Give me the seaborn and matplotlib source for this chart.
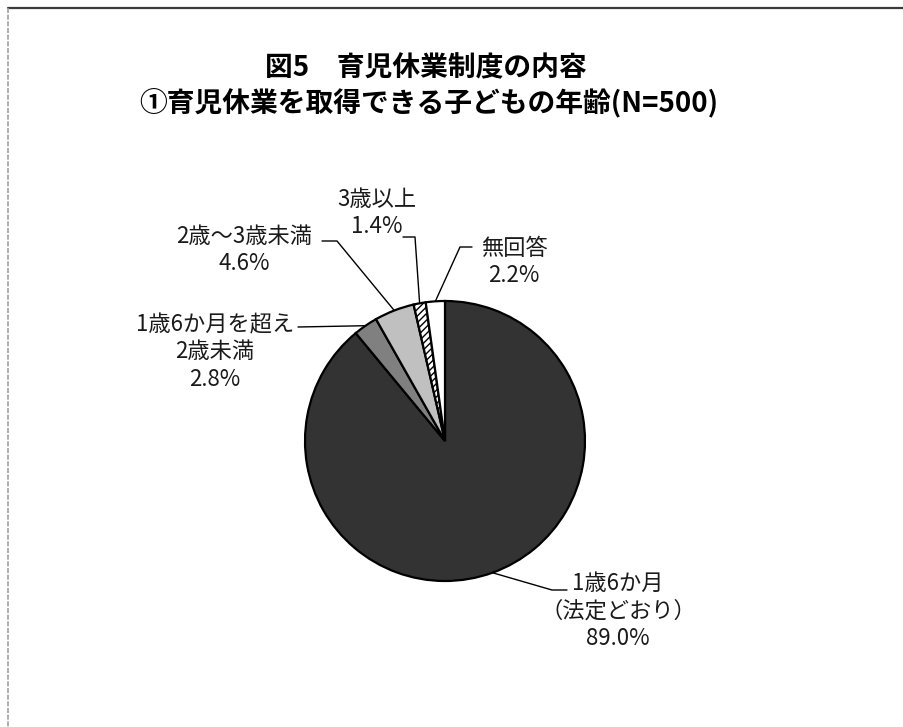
import numpy as np
import matplotlib
matplotlib.use("Agg")
import matplotlib.pyplot as plt
import seaborn as sns

# ---- data ----
categories = ["1歳6か月\n（法定どおり）", "1歳6か月を超え\n2歳未満", "2歳～3歳未満", "3歳以上", "無回答"]
shares = [89.0, 2.8, 4.6, 1.4, 2.2]
title_lines = ["図5　育児休業制度の内容", "①育児休業を取得できる子どもの年齢(N=500)"]

sns.set_theme(style="white")
plt.rcParams["font.family"] = ["Noto Sans CJK JP", "DejaVu Sans"]
plt.rcParams["hatch.linewidth"] = 1.0

W, H = 904, 727
fig = plt.figure(figsize=(W / 100, H / 100), dpi=100)
ax = fig.add_axes([0, 0, 1, 1])
ax.set_xlim(0, W)
ax.set_ylim(0, H)
ax.set_aspect("equal")
ax.axis("off")


def px(x, y):
    """pixel position measured from the top-left corner -> axes data"""
    return x, H - y


# frame lines at top and left
ax.plot([8, W], [H - 8, H - 8], color="#3c3c3c", lw=1.6, clip_on=False)
ax.plot([8, 8], [H - 8, 0], color="#a0a0a0", lw=1.2, ls=(0, (3, 1)), clip_on=False)

# ---- pie ----
fills = ["#333333", "#808080", "#c0c0c0", "white", "white"]
hatches = [None, None, None, "/////", None]
cx, cy = px(445, 441)
R = 140
wedges, _ = ax.pie(shares, colors=fills, startangle=90, counterclock=False,
                   center=(cx, cy), radius=R, frame=True,
                   wedgeprops=dict(edgecolor="black", linewidth=1.6))
for w, h in zip(wedges, hatches):
    if h:
        w.set_hatch(h)
ax.set_xlim(0, W)
ax.set_ylim(0, H)
ax.axis("off")

# ---- labels with leader lines ----
label_pos = [(618, 611), (215, 352), (244, 250), (377, 213), (514, 262)]
elbows = [
    [(552, 590), (567, 590)],
    [(298, 327)],
    [(337, 241), (322, 241)],
    [(415, 237), (403, 237)],
    [(460, 247), (472, 247)],
]
for w, val, name, (tx, ty), elb in zip(wedges, shares, categories, label_pos, elbows):
    mid = np.deg2rad((w.theta1 + w.theta2) / 2)
    ex, ey = cx + R * np.cos(mid), cy + R * np.sin(mid)
    xs = [ex] + [e[0] for e in elb]
    ys = [ey] + [H - e[1] for e in elb]
    ax.plot(xs, ys, color="black", lw=1.0, zorder=0.5)
    ax.text(*px(tx, ty), f"{name}\n{val:.1f}%", ha="center", va="center",
            multialignment="center", fontsize=16, color="#1a1a1a", linespacing=1.25)

# ---- title ----
ax.text(*px(426, 68), title_lines[0], ha="center", va="center",
        fontsize=20, fontweight="bold", color="black")
ax.text(*px(429, 103), title_lines[1], ha="center", va="center",
        fontsize=20, fontweight="bold", color="black")

fig.savefig("out.png", dpi=100, facecolor="white")
